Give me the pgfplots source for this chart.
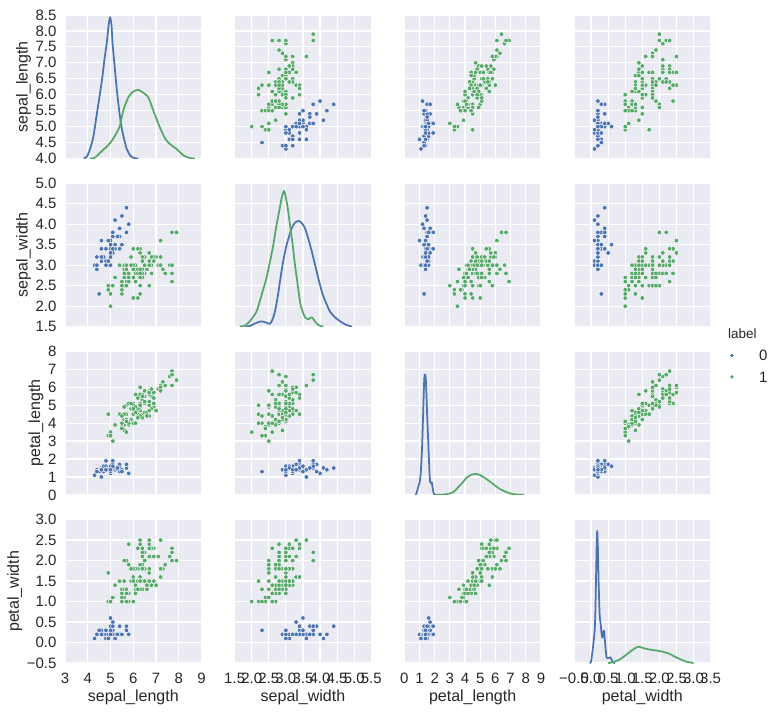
\documentclass[border=0pt]{standalone}
\usepackage{fontspec}
\setmainfont{Liberation Sans}
\usepackage{pgfplots}
\usepackage{pgfplotstable}
\pgfplotsset{compat=1.18}
\definecolor{cb}{HTML}{4C72B0}
\definecolor{cg}{HTML}{55A868}
\definecolor{bgc}{HTML}{EAEAF2}
\definecolor{txt}{HTML}{262626}

\pgfplotstableread{
sl sw pl pw
5.1 3.5 1.4 0.2
4.9 3.0 1.4 0.2
4.7 3.2 1.3 0.2
4.6 3.1 1.5 0.2
5.0 3.6 1.4 0.2
5.4 3.9 1.7 0.4
4.6 3.4 1.4 0.3
5.0 3.4 1.5 0.2
4.4 2.9 1.4 0.2
4.9 3.1 1.5 0.1
5.4 3.7 1.5 0.2
4.8 3.4 1.6 0.2
4.8 3.0 1.4 0.1
4.3 3.0 1.1 0.1
5.8 4.0 1.2 0.2
5.7 4.4 1.5 0.4
5.4 3.9 1.3 0.4
5.1 3.5 1.4 0.3
5.7 3.8 1.7 0.3
5.1 3.8 1.5 0.3
5.4 3.4 1.7 0.2
5.1 3.7 1.5 0.4
4.6 3.6 1.0 0.2
5.1 3.3 1.7 0.5
4.8 3.4 1.9 0.2
5.0 3.0 1.6 0.2
5.0 3.4 1.6 0.4
5.2 3.5 1.5 0.2
5.2 3.4 1.4 0.2
4.7 3.2 1.6 0.2
4.8 3.1 1.6 0.2
5.4 3.4 1.5 0.4
5.2 4.1 1.5 0.1
5.5 4.2 1.4 0.2
4.9 3.1 1.5 0.2
5.0 3.2 1.2 0.2
5.5 3.5 1.3 0.2
4.9 3.6 1.4 0.1
4.4 3.0 1.3 0.2
5.1 3.4 1.5 0.2
5.0 3.5 1.3 0.3
4.5 2.3 1.3 0.3
4.4 3.2 1.3 0.2
5.0 3.5 1.6 0.6
5.1 3.8 1.9 0.4
4.8 3.0 1.4 0.3
5.1 3.8 1.6 0.2
4.6 3.2 1.4 0.2
5.3 3.7 1.5 0.2
5.0 3.3 1.4 0.2
}\setosa

\pgfplotstableread{
sl sw pl pw
7.0 3.2 4.7 1.4
6.4 3.2 4.5 1.5
6.9 3.1 4.9 1.5
5.5 2.3 4.0 1.3
6.5 2.8 4.6 1.5
5.7 2.8 4.5 1.3
6.3 3.3 4.7 1.6
4.9 2.4 3.3 1.0
6.6 2.9 4.6 1.3
5.2 2.7 3.9 1.4
5.0 2.0 3.5 1.0
5.9 3.0 4.2 1.5
6.0 2.2 4.0 1.0
6.1 2.9 4.7 1.4
5.6 2.9 3.6 1.3
6.7 3.1 4.4 1.4
5.6 3.0 4.5 1.5
5.8 2.7 4.1 1.0
6.2 2.2 4.5 1.5
5.6 2.5 3.9 1.1
5.9 3.2 4.8 1.8
6.1 2.8 4.0 1.3
6.3 2.5 4.9 1.5
6.1 2.8 4.7 1.2
6.4 2.9 4.3 1.3
6.6 3.0 4.4 1.4
6.8 2.8 4.8 1.4
6.7 3.0 5.0 1.7
6.0 2.9 4.5 1.5
5.7 2.6 3.5 1.0
5.5 2.4 3.8 1.1
5.5 2.4 3.7 1.0
5.8 2.7 3.9 1.2
6.0 2.7 5.1 1.6
5.4 3.0 4.5 1.5
6.0 3.4 4.5 1.6
6.7 3.1 4.7 1.5
6.3 2.3 4.4 1.3
5.6 3.0 4.1 1.3
5.5 2.5 4.0 1.3
5.5 2.6 4.4 1.2
6.1 3.0 4.6 1.4
5.8 2.6 4.0 1.2
5.0 2.3 3.3 1.0
5.6 2.7 4.2 1.3
5.7 3.0 4.2 1.2
5.7 2.9 4.2 1.3
6.2 2.9 4.3 1.3
5.1 2.5 3.0 1.1
5.7 2.8 4.1 1.3
6.3 3.3 6.0 2.5
5.8 2.7 5.1 1.9
7.1 3.0 5.9 2.1
6.3 2.9 5.6 1.8
6.5 3.0 5.8 2.2
7.6 3.0 6.6 2.1
4.9 2.5 4.5 1.7
7.3 2.9 6.3 1.8
6.7 2.5 5.8 1.8
7.2 3.6 6.1 2.5
6.5 3.2 5.1 2.0
6.4 2.7 5.3 1.9
6.8 3.0 5.5 2.1
5.7 2.5 5.0 2.0
5.8 2.8 5.1 2.4
6.4 3.2 5.3 2.3
6.5 3.0 5.5 1.8
7.7 3.8 6.7 2.2
7.7 2.6 6.9 2.3
6.0 2.2 5.0 1.5
6.9 3.2 5.7 2.3
5.6 2.8 4.9 2.0
7.7 2.8 6.7 2.0
6.3 2.7 4.9 1.8
6.7 3.3 5.7 2.1
7.2 3.2 6.0 1.8
6.2 2.8 4.8 1.8
6.1 3.0 4.9 1.8
6.4 2.8 5.6 2.1
7.2 3.0 5.8 1.6
7.4 2.8 6.1 1.9
7.9 3.8 6.4 2.0
6.4 2.8 5.6 2.2
6.3 2.8 5.1 1.5
6.1 2.6 5.6 1.4
7.7 3.0 6.1 2.3
6.3 3.4 5.6 2.4
6.4 3.1 5.5 1.8
6.0 3.0 4.8 1.8
6.9 3.1 5.4 2.1
6.7 3.1 5.6 2.4
6.9 3.1 5.1 2.3
5.8 2.7 5.1 1.9
6.8 3.2 5.9 2.3
6.7 3.3 5.7 2.5
6.7 3.0 5.2 2.3
6.3 2.5 5.0 1.9
6.5 3.0 5.2 2.0
6.2 3.4 5.4 2.3
5.9 3.0 5.1 1.8
}\others

\pgfplotsset{
  pp/.style={scale only axis, width=136.6pt, height=143.5pt, anchor=south west,
    axis background/.style={fill=bgc}, axis line style={draw=none},
    major tick length=0pt, grid=major, grid style={white, line width=1.2pt},
    enlargelimits=false, xticklabels={,,,,,,,,,,,}, yticklabels={,,,,,,,,,,,},
    ticklabel style={font=\fontsize{15}{18}\selectfont, text=txt, inner sep=0pt},
    xticklabel style={yshift=-9.4pt}, yticklabel style={xshift=-8.3pt},
    label style={font=\fontsize{16}{19}\selectfont, text=txt, inner sep=0pt},
    xlabel shift=6pt, ylabel shift=4.5pt, clip=true},
  r1/.style={ymin=4, ymax=8.5, ytick={4,4.5,5,5.5,6,6.5,7,7.5,8,8.5}},
  r2/.style={ymin=1.5, ymax=5, ytick={1.5,2,2.5,3,3.5,4,4.5,5}},
  r3/.style={ymin=0, ymax=8, ytick={0,1,2,3,4,5,6,7,8}},
  r4/.style={ymin=-0.5, ymax=3, ytick={-0.5,0,0.5,1,1.5,2,2.5,3}},
  c1/.style={xmin=3, xmax=9, xtick={3,4,5,6,7,8,9}},
  c2/.style={xmin=1.5, xmax=5.5, xtick={1.5,2,2.5,3,3.5,4,4.5,5,5.5}},
  c3/.style={xmin=0, xmax=9, xtick={0,1,2,3,4,5,6,7,8,9}},
  c4/.style={xmin=-0.5, xmax=3.5, xtick={-0.5,0,0.5,1,1.5,2,2.5,3,3.5}},
  r1lab/.style={yticklabels={4.0,4.5,5.0,5.5,6.0,6.5,7.0,7.5,8.0,8.5}, ylabel={sepal\_length}},
  r2lab/.style={yticklabels={1.5,2.0,2.5,3.0,3.5,4.0,4.5,5.0}, ylabel={sepal\_width}},
  r3lab/.style={yticklabels={0,1,2,3,4,5,6,7,8}, ylabel={petal\_length}},
  r4lab/.style={yticklabels={−0.5,0.0,0.5,1.0,1.5,2.0,2.5,3.0}, ylabel={petal\_width}},
  c1lab/.style={xticklabels={3,4,5,6,7,8,9}, xlabel={sepal\_length}},
  c2lab/.style={xticklabels={1.5,2.0,2.5,3.0,3.5,4.0,4.5,5.0,5.5}, xlabel={sepal\_width}},
  c3lab/.style={xticklabels={0,1,2,3,4,5,6,7,8,9}, xlabel={petal\_length}},
  c4lab/.style={xticklabels={−0.5,0.0,0.5,1.0,1.5,2.0,2.5,3.0,3.5}, xlabel={petal\_width}},
  sb/.style={only marks, mark=*, mark size=2.3pt, mark options={fill=cb, draw=white, line width=0.45pt}},
  sg/.style={only marks, mark=*, mark size=2.3pt, mark options={fill=cg, draw=white, line width=0.45pt}},
  kb/.style={no marks, cb, line width=1.75pt, smooth, tension=0.4, line join=round},
  kg/.style={no marks, cg, line width=1.75pt, smooth, tension=0.4, line join=round},
}

\begin{document}
\begin{tikzpicture}
\useasboundingbox (0pt,0pt) rectangle (780pt,712pt);

% ---------- row 1 : sepal_length ----------
\begin{axis}[pp, c1, r1, r1lab, at={(65pt,553.5pt)}]
\addplot[kb] coordinates {(3.82,4.0) (3.95,4.05) (4.07,4.23) (4.24,4.66) (4.42,5.5) (4.55,6.1) (4.64,6.55) (4.75,7.2) (4.83,7.6) (4.92,8.2) (4.98,8.43) (5.04,8.2) (5.09,7.6) (5.18,6.9) (5.27,6.2) (5.38,5.5) (5.49,4.95) (5.6,4.6) (5.71,4.3) (5.88,4.08) (6.05,4.01) (6.22,4.0)};
\addplot[kg] coordinates {(4.1,4.0) (4.3,4.02) (4.6,4.22) (4.8,4.35) (5.0,4.5) (5.2,4.72) (5.4,5.0) (5.56,5.5) (5.78,5.92) (6.0,6.1) (6.22,6.15) (6.4,6.08) (6.66,5.92) (6.88,5.5) (7.17,4.97) (7.4,4.62) (7.61,4.45) (7.9,4.3) (8.2,4.1) (8.5,4.01) (8.7,4.0)};
\end{axis}
\begin{axis}[pp, c2, r1, at={(234.67pt,553.5pt)}]
\addplot[sb] table[x=sw, y=sl] {\setosa};
\addplot[sg] table[x=sw, y=sl] {\others};
\end{axis}
\begin{axis}[pp, c3, r1, at={(404.33pt,553.5pt)}]
\addplot[sb] table[x=pl, y=sl] {\setosa};
\addplot[sg] table[x=pl, y=sl] {\others};
\end{axis}
\begin{axis}[pp, c4, r1, at={(574pt,553.5pt)}]
\addplot[sb] table[x=pw, y=sl] {\setosa};
\addplot[sg] table[x=pw, y=sl] {\others};
\end{axis}

% ---------- row 2 : sepal_width ----------
\begin{axis}[pp, c1, r2, r2lab, at={(65pt,385.3pt)}]
\addplot[sb] table[x=sl, y=sw] {\setosa};
\addplot[sg] table[x=sl, y=sw] {\others};
\end{axis}
\begin{axis}[pp, c2, r2, at={(234.67pt,385.3pt)}]
\addplot[kb] coordinates {(1.8,1.5) (1.95,1.52) (2.1,1.58) (2.28,1.63) (2.42,1.6) (2.53,1.57) (2.6,1.66) (2.68,1.87) (2.77,2.28) (2.84,2.68) (2.92,3.09) (3.02,3.49) (3.17,3.9) (3.27,4.04) (3.38,4.08) (3.47,4.02) (3.56,3.9) (3.71,3.49) (3.86,2.99) (3.95,2.68) (4.08,2.28) (4.29,1.87) (4.45,1.72) (4.59,1.63) (4.75,1.55) (4.93,1.5)};
\addplot[kg] coordinates {(1.65,1.5) (1.8,1.53) (1.94,1.63) (2.14,1.87) (2.29,2.28) (2.43,2.68) (2.51,2.99) (2.63,3.49) (2.72,3.95) (2.8,4.3) (2.88,4.65) (2.95,4.81) (3.01,4.6) (3.07,4.3) (3.14,3.85) (3.2,3.49) (3.26,3.05) (3.32,2.68) (3.38,2.3) (3.43,2.03) (3.5,1.85) (3.56,1.73) (3.66,1.68) (3.76,1.73) (3.85,1.63) (3.95,1.54) (4.1,1.5)};
\end{axis}
\begin{axis}[pp, c3, r2, at={(404.33pt,385.3pt)}]
\addplot[sb] table[x=pl, y=sw] {\setosa};
\addplot[sg] table[x=pl, y=sw] {\others};
\end{axis}
\begin{axis}[pp, c4, r2, at={(574pt,385.3pt)},
  legend style={at={(1.1435,-0.275)}, anchor=west, draw=none, fill=none, inner sep=0pt,
    row sep=11pt, column sep=25.8pt, font=\fontsize{15}{18}\selectfont, text=txt,
    nodes={inner sep=0pt, text depth=0pt}, cells={anchor=center}},
  legend entries={0,1}]
\addlegendimage{only marks, mark=*, mark size=1.5pt, mark options={fill=cb, draw=cb}}
\addlegendimage{only marks, mark=*, mark size=1.5pt, mark options={fill=cg, draw=cg}}
\addplot[sb, forget plot] table[x=pw, y=sw] {\setosa};
\addplot[sg, forget plot] table[x=pw, y=sw] {\others};
\end{axis}

% ---------- row 3 : petal_length ----------
\begin{axis}[pp, c1, r3, r3lab, at={(65pt,217.1pt)}]
\addplot[sb] table[x=sl, y=pl] {\setosa};
\addplot[sg] table[x=sl, y=pl] {\others};
\end{axis}
\begin{axis}[pp, c2, r3, at={(234.67pt,217.1pt)}]
\addplot[sb] table[x=sw, y=pl] {\setosa};
\addplot[sg] table[x=sw, y=pl] {\others};
\end{axis}
\begin{axis}[pp, c3, r3, at={(404.33pt,217.1pt)}]
\addplot[kb] coordinates {(0.75,0) (0.84,0.2) (0.95,0.55) (1.0,0.65) (1.08,1.2) (1.17,2.66) (1.24,4.54) (1.31,6.41) (1.36,6.72) (1.42,6.41) (1.5,4.54) (1.59,2.66) (1.66,1.2) (1.7,0.75) (1.75,0.65) (1.81,0.7) (1.86,0.4) (1.95,0.05) (2.1,0)};
\addplot[kg] coordinates {(2.0,0) (2.5,0.01) (3.0,0.08) (3.3,0.2) (3.54,0.42) (3.8,0.65) (4.09,0.94) (4.4,1.12) (4.71,1.17) (5.0,1.1) (5.31,0.94) (5.6,0.77) (5.86,0.6) (6.2,0.38) (6.53,0.23) (6.9,0.1) (7.19,0.04) (7.6,0.01) (7.9,0)};
\end{axis}
\begin{axis}[pp, c4, r3, at={(574pt,217.1pt)}]
\addplot[sb] table[x=pw, y=pl] {\setosa};
\addplot[sg] table[x=pw, y=pl] {\others};
\end{axis}

% ---------- row 4 : petal_width ----------
\begin{axis}[pp, c1, r4, r4lab, c1lab, at={(65pt,48.9pt)}]
\addplot[sb] table[x=sl, y=pw] {\setosa};
\addplot[sg] table[x=sl, y=pw] {\others};
\end{axis}
\begin{axis}[pp, c2, r4, c2lab, at={(234.67pt,48.9pt)}]
\addplot[sb] table[x=sw, y=pw] {\setosa};
\addplot[sg] table[x=sw, y=pw] {\others};
\end{axis}
\begin{axis}[pp, c3, r4, c3lab, at={(404.33pt,48.9pt)}]
\addplot[sb] table[x=pl, y=pw] {\setosa};
\addplot[sg] table[x=pl, y=pw] {\others};
\end{axis}
\begin{axis}[pp, c4, r4, c4lab, at={(574pt,48.9pt)}]
\addplot[kb] coordinates {(-0.04,-0.5) (0.0,-0.46) (0.056,-0.11) (0.105,0.29) (0.124,0.7) (0.144,1.51) (0.163,2.32) (0.18,2.72) (0.2,2.32) (0.22,1.51) (0.25,0.7) (0.28,0.46) (0.31,0.2) (0.33,0.12) (0.36,0.25) (0.38,0.29) (0.41,0.0) (0.45,-0.35) (0.5,-0.38) (0.57,-0.36) (0.6,-0.42) (0.64,-0.48) (0.7,-0.5)};
\addplot[kg] coordinates {(0.5,-0.5) (0.62,-0.48) (0.82,-0.42) (1.01,-0.31) (1.21,-0.18) (1.38,-0.1) (1.55,-0.14) (1.79,-0.18) (2.04,-0.21) (2.28,-0.27) (2.52,-0.37) (2.77,-0.46) (3.0,-0.5)};
\end{axis}

\node[anchor=base west, inner sep=0pt, text=txt, font=\fontsize{13.5}{16}\selectfont] at (728pt,373pt) {label};
\end{tikzpicture}
\end{document}
